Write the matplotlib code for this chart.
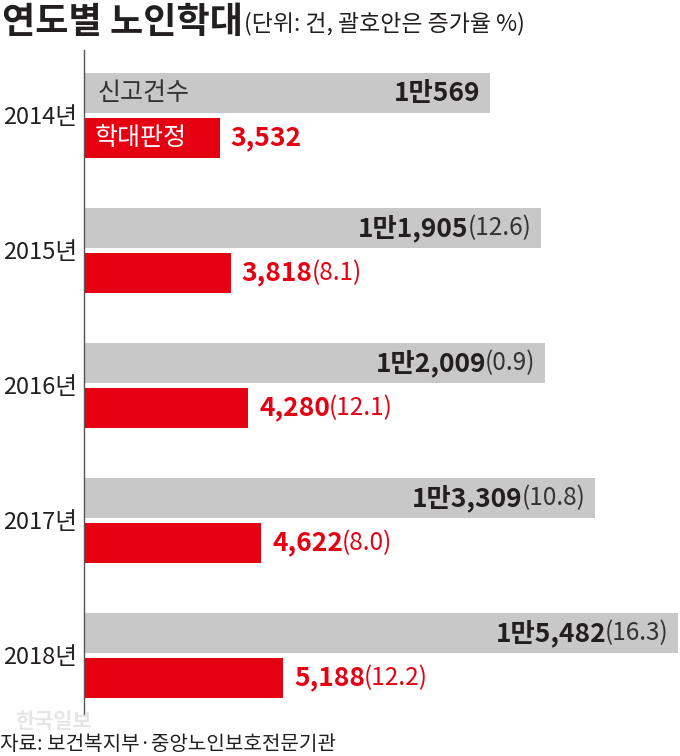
import matplotlib.pyplot as plt

plt.rcParams['font.family'] = ['Noto Sans CJK KR', 'DejaVu Sans']

# data
years = ["2014년", "2015년", "2016년", "2017년", "2018년"]
reports = [10569, 11905, 12009, 13309, 15482]
report_labels = ["1만569", "1만1,905", "1만2,009", "1만3,309", "1만5,482"]
report_growth = ["", "(12.6)", "(0.9)", "(10.8)", "(16.3)"]
abuse = [3532, 3818, 4280, 4622, 5188]
abuse_labels = ["3,532", "3,818", "4,280", "4,622", "5,188"]
abuse_growth = ["", "(8.1)", "(12.1)", "(8.0)", "(12.2)"]

GREY = "#c8c8c8"
RED = "#e50012"
DARK = "#231f20"

W, H = 680, 756
fig = plt.figure(figsize=(W / 100, H / 100), dpi=100)
ax = fig.add_axes([84 / W, 1 - 715 / H, (W - 84) / W, (715 - 50) / H])

pos = list(range(len(years)))
grey_y = [p - 0.165 for p in pos]
red_y = [p + 0.165 for p in pos]
ax.barh(grey_y, reports, height=0.296, color=GREY, left=0)
ax.barh(red_y, abuse, height=0.296, color=RED, left=0)

ax.set_xlim(0, 15527)
ax.set_ylim(4.441, -0.485)
for s in ["top", "right", "bottom"]:
    ax.spines[s].set_visible(False)
ax.spines["left"].set_color("#555555")
ax.spines["left"].set_linewidth(1.0)
ax.set_xticks([])
ax.set_yticks(pos)
ax.set_yticklabels(years, fontsize=17, color=DARK)
ax.tick_params(axis="y", length=0, pad=5)

# value labels
for i in pos:
    gy, ry = grey_y[i], red_y[i]
    if report_growth[i]:
        p = ax.annotate(report_growth[i], xy=(reports[i], gy), xytext=(-7, 0),
                        textcoords="offset points", ha="right", va="center",
                        fontsize=17.5, color="#333333")
        ax.annotate(report_labels[i], xy=(0, 0.5), xycoords=p, xytext=(1, 0),
                    textcoords="offset points", ha="right",
                    va="center", fontsize=19, fontweight="bold", color=DARK)
    else:
        ax.annotate(report_labels[i], xy=(reports[i], gy), xytext=(-7, 0),
                    textcoords="offset points", ha="right", va="center",
                    fontsize=19, fontweight="bold", color=DARK)
    t = ax.annotate(abuse_labels[i], xy=(abuse[i], ry), xytext=(8, 0),
                    textcoords="offset points", ha="left", va="center",
                    fontsize=19, fontweight="bold", color=RED)
    if abuse_growth[i]:
        ax.annotate(abuse_growth[i], xy=(1, 0.5), xycoords=t, xytext=(-1, 0),
                    textcoords="offset points", ha="left",
                    va="center", fontsize=17.5, color=RED)

# legend labels inside the 2014 bars
ax.annotate("신고건수", xy=(0, grey_y[0]), xytext=(10, 0), textcoords="offset points",
            ha="left", va="center", fontsize=18, color="#333333")
ax.annotate("학대판정", xy=(0, red_y[0]), xytext=(8, 0), textcoords="offset points",
            ha="left", va="center", fontsize=18, color="white")

# title
title = fig.text(0.003, 1 - 22 / H, "연도별 노인학대", fontsize=26, fontweight="black",
                 color=DARK, ha="left", va="center")
ax.annotate("(단위: 건, 괄호안은 증가율 %)", xy=(1, 0.45), xycoords=title,
            xytext=(1, 0), textcoords="offset points", ha="left", va="center",
            fontsize=16.5, color=DARK, annotation_clip=False)

# watermark and source
fig.text(15 / W, 1 - 722 / H, "한국일보", fontsize=15, fontweight="bold",
         color="#e6e6e6", ha="left", va="center")
fig.text(0.0, 1 - 744 / H, "자료: 보건복지부·중앙노인보호전문기관", fontsize=14.5,
         color=DARK, ha="left", va="center")

fig.savefig("out.png", dpi=100)
